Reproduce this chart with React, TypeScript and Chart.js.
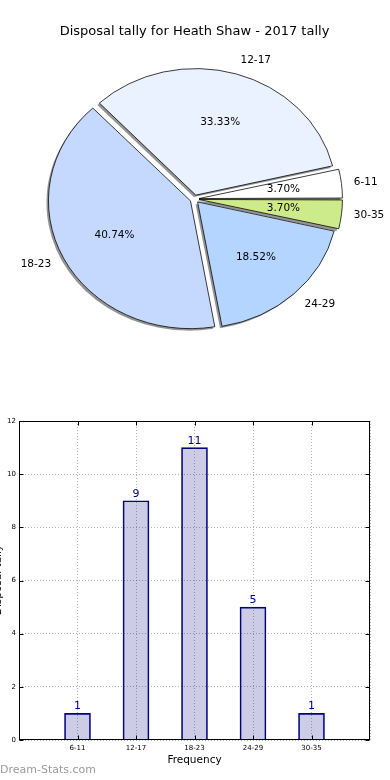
import React, { useEffect, useRef } from 'react';
import { Chart, registerables } from 'chart.js';

Chart.register(...registerables);

const FONT = '"DejaVu Sans", Verdana, sans-serif';

const titleText = 'Disposal tally for Heath Shaw - 2017 tally';
const categories = ['6-11', '12-17', '18-23', '24-29', '30-35'];
const counts = [1, 9, 11, 5, 1];
const sliceColors = ['#FFFFFF', '#EAF1FF', '#C5D9FF', '#B4D5FF', '#CDEB8B'];
const yTicks = [0, 2, 4, 6, 8, 10, 12];
const yAxisLabel = 'Disposal tally';
const xAxisLabel = 'Frequency';
const watermark = 'Dream-Stats.com';

// pie geometry
const PIE_R = 140;
const LABEL_R = 141.7;
const ELL = 0.9; // vertical squash (matplotlib non-equal aspect)
const DISP = 4.5; // explode displacement in px

export default function App() {
  const pieRef = useRef<HTMLCanvasElement | null>(null);
  const barRef = useRef<HTMLCanvasElement | null>(null);

  useEffect(() => {
    document.body.style.margin = '0';
    const total = counts.reduce((a, b) => a + b, 0);
    // matplotlib draws counter-clockwise from 3 o'clock; Chart.js clockwise -> reverse order
    const order = categories.map((_, i) => categories.length - 1 - i);

    const piePlugin = {
      id: 'pieExtras',
      beforeDatasetsDraw(chart: any) {
        const ctx = chart.ctx;
        const data = chart.getDatasetMeta(0).data;
        const a = data[0];
        ctx.save();
        ctx.translate(a.x, a.y);
        ctx.scale(1, ELL);
        ctx.translate(-a.x, -a.y);
        // drop shadows (down-left), drawn under all wedges
        ctx.save();
        ctx.translate(-2, 2 / ELL);
        ctx.fillStyle = 'rgba(0,0,0,0.42)';
        data.forEach((arc: any) => {
          const p = arc.getProps(['x', 'y', 'startAngle', 'endAngle', 'outerRadius', 'circumference'], true);
          const mid = (p.startAngle + p.endAngle) / 2;
          const off = (arc.options.offset || 0) / 4;
          const fix = 1 - Math.sin(Math.min(Math.PI, p.circumference || 0));
          const cx = p.x + Math.cos(mid) * off;
          const cy = p.y + Math.sin(mid) * off;
          ctx.beginPath();
          ctx.moveTo(cx, cy);
          ctx.arc(cx, cy, p.outerRadius + off * fix, p.startAngle, p.endAngle);
          ctx.closePath();
          ctx.fill();
        });
        ctx.restore();
      },
      afterDatasetsDraw(chart: any) {
        chart.ctx.restore();
      },
      afterDraw(chart: any) {
        const ctx = chart.ctx;
        const meta = chart.getDatasetMeta(0);
        ctx.save();
        ctx.fillStyle = '#000';
        meta.data.forEach((arc: any, j: number) => {
          const i = order[j];
          const p = arc.getProps(['x', 'y', 'startAngle', 'endAngle'], true);
          const mid = (p.startAngle + p.endAngle) / 2;
          const c = Math.cos(mid);
          const s = Math.sin(mid);
          const rp = DISP + 0.6 * LABEL_R;
          ctx.font = `10.5px ${FONT}`;
          ctx.textAlign = 'center';
          ctx.textBaseline = 'middle';
          ctx.fillText(((counts[i] / total) * 100).toFixed(2) + '%', p.x + c * rp, p.y + s * rp * ELL);
          const rl = DISP + 1.1 * LABEL_R;
          ctx.textAlign = c > 0 ? 'left' : 'right';
          ctx.fillText(categories[i], p.x + c * rl, p.y + s * rl * ELL);
        });
        ctx.restore();
      },
    };

    const pie = new Chart(pieRef.current as HTMLCanvasElement, {
      type: 'pie',
      data: {
        labels: order.map((i) => categories[i]),
        datasets: [
          {
            data: order.map((i) => counts[i]),
            backgroundColor: order.map((i) => sliceColors[i]),
            borderColor: '#000',
            borderWidth: 0.8,
            offset: DISP * 4,
            radius: PIE_R,
          } as any,
        ],
      },
      options: {
        animation: false,
        responsive: false,
        rotation: 90,
        layout: { padding: { top: 0, bottom: 49.6, left: 0, right: 1 } },
        plugins: {
          legend: { display: false },
          tooltip: { enabled: false },
          title: {
            display: true,
            text: titleText,
            color: '#000',
            font: { family: FONT, size: 13, weight: 'normal' as any, lineHeight: 1.2 },
            padding: { top: 24, bottom: 8 },
          },
        },
      },
      plugins: [piePlugin],
    });

    const barPlugin = {
      id: 'barExtras',
      afterDraw(chart: any) {
        const ctx = chart.ctx;
        const area = chart.chartArea;
        const xs = chart.scales.x;
        const ys = chart.scales.y;
        ctx.save();
        // value labels
        ctx.fillStyle = '#000080';
        ctx.font = `11px ${FONT}`;
        ctx.textAlign = 'center';
        ctx.textBaseline = 'alphabetic';
        chart.getDatasetMeta(0).data.forEach((bar: any, i: number) => {
          ctx.fillText(String(counts[i]), bar.x, bar.y - 4);
        });
        // frame
        const L = Math.round(area.left) + 0.5;
        const R = Math.round(area.right) - 0.5;
        const T = Math.round(area.top) + 0.5;
        const B = Math.round(area.bottom) - 0.5;
        ctx.strokeStyle = '#000';
        ctx.lineWidth = 1;
        ctx.strokeRect(L, T, R - L, B - T);
        // inward tick marks
        ctx.beginPath();
        categories.forEach((_, i) => {
          const x = Math.round(xs.getPixelForValue(i)) + 0.5;
          ctx.moveTo(x, B);
          ctx.lineTo(x, B - 4);
          ctx.moveTo(x, T);
          ctx.lineTo(x, T + 4);
        });
        yTicks.forEach((v) => {
          const y = Math.round(ys.getPixelForValue(v)) + 0.5;
          ctx.moveTo(L, y);
          ctx.lineTo(L + 4, y);
          ctx.moveTo(R, y);
          ctx.lineTo(R - 4, y);
        });
        ctx.stroke();
        // axis labels
        ctx.fillStyle = '#000';
        ctx.font = `10.5px ${FONT}`;
        ctx.textAlign = 'center';
        ctx.textBaseline = 'middle';
        ctx.fillText(xAxisLabel, (area.left + area.right) / 2, 360);
        ctx.save();
        ctx.translate(1, 180);
        ctx.rotate(-Math.PI / 2);
        ctx.textBaseline = 'alphabetic';
        ctx.fillText(yAxisLabel, 0, 0);
        ctx.restore();
        // watermark
        ctx.fillStyle = '#9a9a9a';
        ctx.font = `11px ${FONT}`;
        ctx.textAlign = 'left';
        ctx.textBaseline = 'alphabetic';
        ctx.fillText(watermark, 0, 373);
        ctx.restore();
      },
    };

    const gridColor = 'rgba(0,0,0,0.3)';
    const bar = new Chart(barRef.current as HTMLCanvasElement, {
      type: 'bar',
      data: {
        datasets: [
          {
            data: categories.map((_, i) => ({ x: i, y: counts[i] })),
            backgroundColor: 'rgba(0,0,128,0.2)',
            borderColor: '#000080',
            borderWidth: 1,
            barThickness: 26,
          } as any,
        ],
      },
      options: {
        animation: false,
        responsive: false,
        layout: { padding: { top: 21, right: 20, left: 0, bottom: 0 } },
        plugins: { legend: { display: false }, tooltip: { enabled: false } },
        scales: {
          x: {
            type: 'linear',
            min: -1,
            max: 5,
            offset: false,
            afterFit: (s: any) => {
              s.height = 40;
            },
            ticks: {
              stepSize: 1,
              autoSkip: false,
              color: '#000',
              padding: 4,
              maxRotation: 0,
              font: { family: FONT, size: 7 },
              callback: (v: any) => categories[v] ?? '',
            },
            grid: { color: gridColor, lineWidth: 1, drawTicks: false, offset: false },
            border: { display: false, dash: [1, 2] },
          },
          y: {
            min: 0,
            max: 12,
            afterFit: (s: any) => {
              s.width = 19;
            },
            ticks: {
              stepSize: 2,
              color: '#000',
              padding: 3,
              font: { family: FONT, size: 7 },
            },
            grid: { color: gridColor, lineWidth: 1, drawTicks: false },
            border: { display: false, dash: [1, 2] },
          },
        },
      },
      plugins: [barPlugin],
    });

    return () => {
      pie.destroy();
      bar.destroy();
    };
  }, []);

  return (
    <div style={{ width: 390, height: 780, position: 'relative', background: '#fff' }}>
      <canvas ref={pieRef} width={390} height={400} style={{ display: 'block', width: 390, height: 400 }} />
      <canvas ref={barRef} width={390} height={380} style={{ display: 'block', width: 390, height: 380 }} />
    </div>
  );
}
